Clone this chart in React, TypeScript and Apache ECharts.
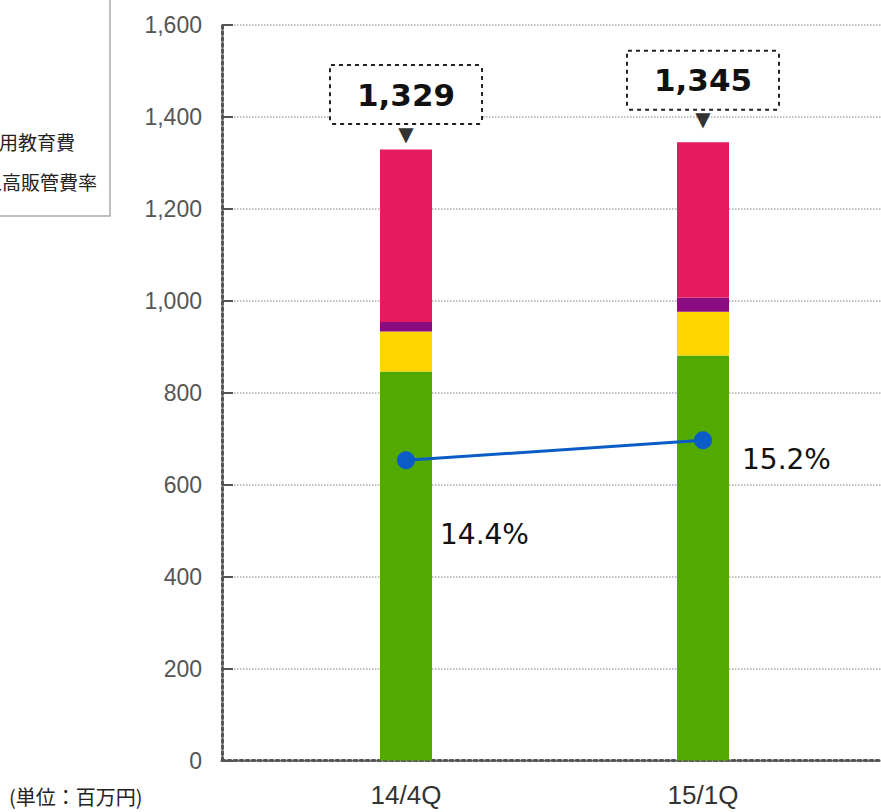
import React, { useEffect, useRef } from "react";
import * as echarts from "echarts";

const categories = ["14/4Q", "15/1Q"];
const personnelCost = [846, 881];
const rentCost = [87, 95];
const recruitCost = [21, 31];
const otherCost = [375, 338];
const totals = [1329, 1345];
const sgaRatio = [14.4, 15.2];
const yTicks = { min: 0, max: 1600, interval: 200 };
const ratioRange = { min: 2.4, max: 31.8 };

// layout constants (not data)
const totalLabelShift = [0, -7];
const ratioLabelOffset = [
  [20, 74],
  [25, 19],
];

const axisFont = '"Liberation Sans", Arial, sans-serif';
const cjkFont = '"Noto Sans CJK JP", sans-serif';

export default function App() {
  const ref = useRef<HTMLDivElement>(null);
  useEffect(() => {
    if (!ref.current) return;
    const chart = echarts.init(ref.current, null, { renderer: "svg" });
    const barBase = {
      type: "bar",
      stack: "total",
      barWidth: 52,
      xAxisIndex: 0,
      yAxisIndex: 0,
    };
    chart.setOption({
      animation: false,
      grid: [
        // plot grid for the marks (category bands of 297px)
        { left: 257.5, top: 25, right: 29.5, bottom: 51.5, containLabel: false },
        // frame grid for the visible axes
        { left: 222, top: 25, right: 0, bottom: 51.5, containLabel: false },
      ],
      xAxis: [
        {
          type: "category",
          gridIndex: 0,
          data: categories,
          axisLine: { show: false },
          axisTick: { show: false },
          splitLine: { show: false },
          axisLabel: {
            color: "#333",
            fontSize: 26,
            fontFamily: axisFont,
            margin: 21,
          },
        },
        {
          type: "value",
          gridIndex: 1,
          min: 0,
          max: 1,
          splitLine: { show: false },
          axisTick: { show: false },
          axisLabel: { show: false },
          axisLine: {
            show: true,
            onZero: false,
            lineStyle: { color: "#555", width: 3, type: "dotted" },
          },
        },
      ],
      yAxis: [
        {
          type: "value",
          gridIndex: 0,
          show: false,
          min: yTicks.min,
          max: yTicks.max,
          interval: yTicks.interval,
        },
        {
          type: "value",
          gridIndex: 0,
          show: false,
          min: ratioRange.min,
          max: ratioRange.max,
          splitLine: { show: false },
        },
        {
          type: "value",
          gridIndex: 1,
          min: yTicks.min,
          max: yTicks.max,
          interval: yTicks.interval,
          axisLine: {
            show: true,
            onZero: false,
            lineStyle: { color: "#555", width: 3, type: "dotted" },
          },
          axisTick: {
            show: true,
            inside: true,
            length: 11,
            lineStyle: { color: "#555", width: 2 },
          },
          splitLine: {
            show: true,
            lineStyle: { color: "#aaa", width: 1.5, type: "dotted" },
          },
          axisLabel: {
            color: "#555",
            fontSize: 23,
            fontFamily: axisFont,
            margin: 20,
            formatter: (v: number) => v.toLocaleString("en-US"),
          },
        },
      ],
      graphic: [
        {
          type: "rect",
          shape: { x: -10, y: -10, width: 120, height: 226 },
          style: { fill: "#fff", stroke: "#aaa", lineWidth: 1.5 },
          z: 10,
        },
        {
          type: "text",
          x: 75,
          y: 141,
          z: 11,
          style: {
            text: "採用教育費",
            align: "right",
            verticalAlign: "middle",
            fontSize: 19,
            fontFamily: cjkFont,
            fill: "#222",
          },
        },
        {
          type: "text",
          x: 97,
          y: 181,
          z: 11,
          style: {
            text: "売上高販管費率",
            align: "right",
            verticalAlign: "middle",
            fontSize: 19,
            fontFamily: cjkFont,
            fill: "#222",
          },
        },
        {
          type: "text",
          x: 9,
          y: 796,
          z: 11,
          style: {
            text: "(単位：百万円)",
            align: "left",
            verticalAlign: "middle",
            fontSize: 20,
            fontFamily: cjkFont,
            fill: "#222",
          },
        },
      ],
      series: [
        {
          ...barBase,
          name: "人件費",
          data: personnelCost,
          itemStyle: { color: "#52aa00" },
        },
        {
          ...barBase,
          name: "地代家賃",
          data: rentCost,
          itemStyle: { color: "#ffd500" },
        },
        {
          ...barBase,
          name: "採用教育費",
          data: recruitCost,
          itemStyle: { color: "#8a0c80" },
        },
        {
          ...barBase,
          name: "その他",
          data: otherCost.map((v, i) => ({
            value: v,
            label: { offset: [0, totalLabelShift[i]] },
          })),
          itemStyle: { color: "#e61a5e" },
          label: {
            show: true,
            position: "top",
            distance: 8,
            formatter: (p: any) =>
              `{box|${totals[p.dataIndex].toLocaleString("en-US")}}\n{arr|▼}`,
            rich: {
              box: {
                fontSize: 31,
                fontWeight: "bold",
                fontFamily: '"DejaVu Sans", Verdana, sans-serif',
                color: "#111",
                lineHeight: 62,
                padding: [13, 26],
                borderColor: "#222",
                borderWidth: 2,
                borderType: "dotted",
                backgroundColor: "#fff",
              },
              arr: {
                fontSize: 20,
                lineHeight: 16,
                color: "#333",
                fontFamily: '"DejaVu Sans", sans-serif',
              },
            },
          },
        },
        {
          type: "line",
          name: "売上高販管費率",
          xAxisIndex: 0,
          yAxisIndex: 1,
          data: sgaRatio.map((v, i) => ({
            value: v,
            label: { offset: ratioLabelOffset[i] },
          })),
          symbol: "circle",
          symbolSize: 18,
          lineStyle: { color: "#0b5cc7", width: 3 },
          itemStyle: { color: "#0b5cc7" },
          z: 5,
          label: {
            show: true,
            position: "right",
            formatter: (p: any) => `${p.value}%`,
            fontSize: 28,
            fontFamily: '"DejaVu Sans", Verdana, sans-serif',
            color: "#111",
          },
        },
      ],
    });
    return () => chart.dispose();
  }, []);
  return (
    <div
      ref={ref}
      style={{ position: "absolute", left: 0, top: 0, width: 881, height: 812 }}
    />
  );
}
